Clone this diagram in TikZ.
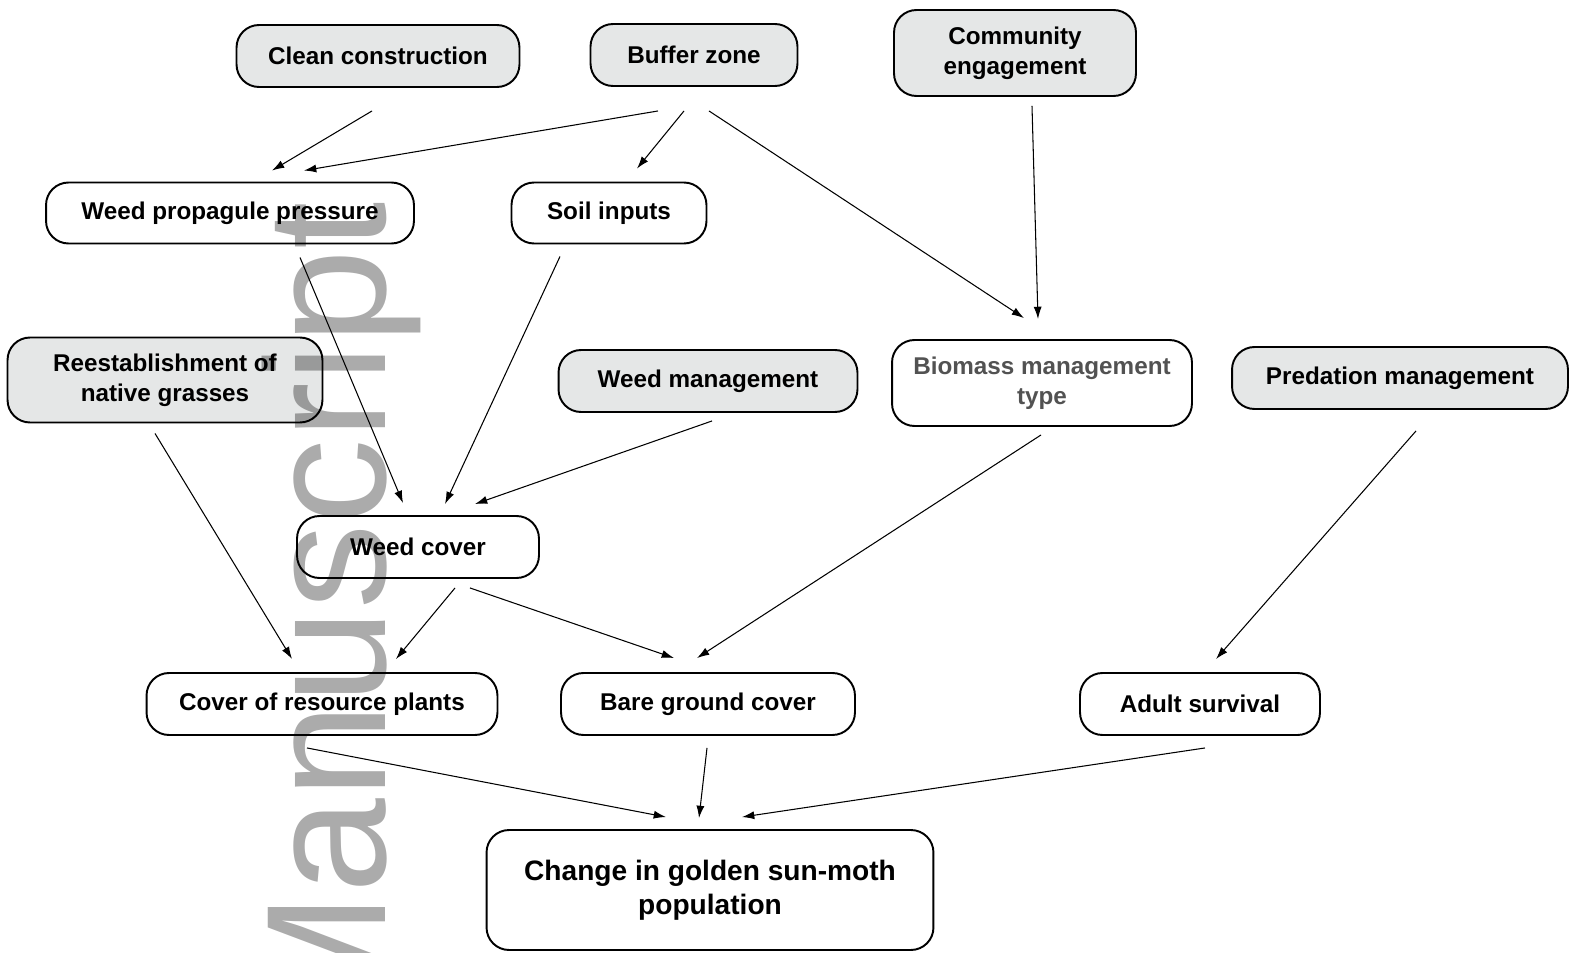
\documentclass[tikz,border=0pt]{standalone}
\usepackage{fontspec}
\setmainfont{Liberation Sans}
\usetikzlibrary{calc,positioning,arrows.meta,shapes}
\definecolor{boxgray}{RGB}{229,231,231}
\definecolor{markgray}{RGB}{171,171,171}

\begin{document}
\begin{tikzpicture}[x=0.02cm, y=-0.02cm,
  box/.style={draw, rounded corners=0.45cm, line width=1.1pt, inner sep=0pt, align=center,
    minimum height=1.24cm, font=\bfseries\fontsize{13.8}{17}\selectfont},
  lever/.style={box, fill=boxgray},
  factor/.style={box, fill=white},
  arr/.style={-{Latex[length=7pt,width=4.6pt]}, line width=0.6pt}]

\useasboundingbox (0,0) rectangle (1570,953);

% management actions (grey) and intermediate factors (white)
\node[lever, minimum width=5.66cm] (clean) at (378,56) {Clean construction};
\node[lever, minimum width=4.14cm] (buffer) at (694,55) {Buffer zone};
\node[lever, minimum width=4.84cm, minimum height=1.72cm] (comm) at (1015,53) {Community\\engagement};
\node[factor, minimum width=7.36cm, minimum height=1.22cm] (wpp) at (230,213) {Weed propagule pressure};
\node[factor, minimum width=3.90cm, minimum height=1.22cm] (soil) at (609,213) {Soil inputs};
\node[lever, minimum width=6.30cm, minimum height=1.70cm] (reest) at (165,380) {Reestablishment of\\native grasses};
\node[lever, minimum width=5.98cm] (wmgmt) at (708,381) {Weed management};
\node[factor, minimum width=6.00cm, minimum height=1.72cm, text=black!68] (biomass) at (1042,383) {Biomass management\\type};
\node[lever, minimum width=6.72cm] (pred) at (1400,378) {Predation management};
\node[factor, minimum width=4.84cm] (wcover) at (418,547) {Weed cover};
\node[factor, minimum width=7.02cm] (cres) at (322,704) {Cover of resource plants};
\node[factor, minimum width=5.88cm] (bare) at (708,704) {Bare ground cover};
\node[factor, minimum width=4.80cm] (adult) at (1200,704) {Adult survival};
\node[factor, minimum width=8.94cm, minimum height=2.40cm,
  font=\bfseries\fontsize{16}{19.5}\selectfont] (change) at (710,890) {Change in golden sun-moth\\population};

% links
\draw[arr] ($(clean.south)+(-6,23)$) -- ($(wpp.north)+(42,-11)$);
\draw[arr] ($(buffer.south)+(-36,24)$) -- ($(wpp.north)+(74,-11)$);
\draw[arr] ($(buffer.south)+(-10,24)$) -- ($(soil.north)+(28,-13)$);
\draw[arr] ($(buffer.south)+(15,24)$) -- ($(biomass.north)+(-18,-21)$);
\draw[arr] ($(comm.south)+(17,9)$) -- ($(biomass.north)+(-4,-20)$);
\draw[arr] ($(wpp.south)+(70,13)$) -- ($(wcover.north)+(-15,-12)$);
\draw[arr] ($(soil.south)+(-49,12)$) -- ($(wcover.north)+(27,-11)$);
\draw[arr] ($(wmgmt.south)+(4,8)$) -- ($(wcover.north)+(57,-11)$);
\draw[arr] ($(reest.south)+(-10,10)$) -- ($(cres.north)+(-30,-13)$);
\draw[arr] ($(wcover.south)+(37,9)$) -- ($(cres.north)+(74,-13)$);
\draw[arr] ($(wcover.south)+(52,9)$) -- ($(bare.north)+(-34,-14)$);
\draw[arr] ($(biomass.south)+(-1,8)$) -- ($(bare.north)+(-11,-14)$);
\draw[arr] ($(pred.south)+(16,21)$) -- ($(adult.north)+(16,-13)$);
\draw[arr] ($(cres.south)+(-15,12)$) -- ($(change.north)+(-44,-12)$);
\draw[arr] ($(bare.south)+(-1,12)$) -- ($(change.north)+(-11,-11)$);
\draw[arr] ($(adult.south)+(5,12)$) -- ($(change.north)+(32,-12)$);

% watermark
\begin{scope}[blend mode=multiply]
  \clip (0,0) rectangle (1570,953);
  \node[rotate=90, anchor=base west, inner sep=0pt, text=markgray,
    font=\fontsize{97}{97}\selectfont] (mark) at (385,1036) {Manuscript};
\end{scope}
\end{tikzpicture}
\end{document}
